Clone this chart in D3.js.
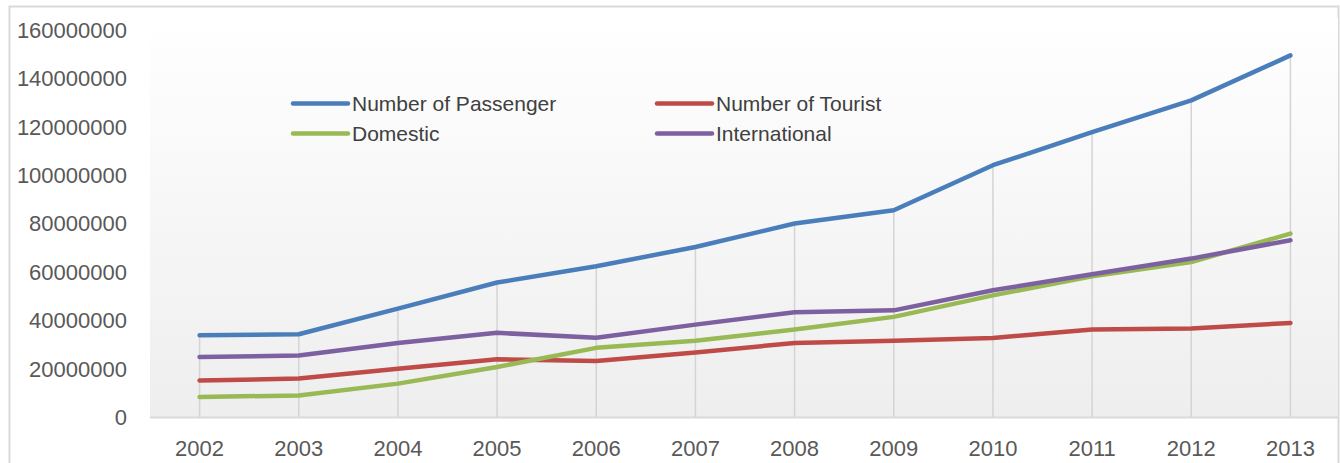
<!DOCTYPE html>
<html lang="en">
<head>
<meta charset="utf-8">
<title>Passengers and Tourists</title>
<script src="https://cdn.jsdelivr.net/npm/d3@7"></script>
<style>
  body { margin: 0; background: #fff; }
  svg { display: block; font-family: "Liberation Sans", Arial, sans-serif; }
  .tick-label { fill: #595959; font-size: 22px; }
  .legend-label { fill: #404040; font-size: 21px; }
</style>
</head>
<body>
<script>
// data
var years = ["2002", "2003", "2004", "2005", "2006", "2007", "2008", "2009", "2010", "2011", "2012", "2013"];
var passenger = [34000000, 34400000, 45000000, 55800000, 62500000, 70500000, 80200000, 85700000, 104300000, 118000000, 131100000, 149700000];
var tourist = [15300000, 16100000, 20200000, 24100000, 23400000, 26900000, 30800000, 31700000, 32900000, 36400000, 36800000, 39100000];
var domestic = [8500000, 9100000, 14000000, 20900000, 28800000, 31700000, 36400000, 41600000, 50500000, 58400000, 64300000, 76000000];
var international = [25000000, 25600000, 30800000, 35000000, 33000000, 38400000, 43500000, 44300000, 52600000, 59200000, 65700000, 73300000];
var yTicks = [0, 20000000, 40000000, 60000000, 80000000, 100000000, 120000000, 140000000, 160000000];

var series = [
  { name: "Number of Passenger", values: passenger, color: "#4a7ebb" },
  { name: "Number of Tourist", values: tourist, color: "#be4b48" },
  { name: "Domestic", values: domestic, color: "#98b954" },
  { name: "International", values: international, color: "#7d60a0" }
];

var W = 1340, H = 463;
var plot = { left: 150, right: 1338, top: 18, bottom: 417.5 };

var svg = d3.select("body").append("svg")
  .attr("width", W)
  .attr("height", H);

// plot background gradient
var grad = svg.append("defs").append("linearGradient")
  .attr("id", "bg").attr("x1", 0).attr("y1", 0).attr("x2", 0).attr("y2", 1);
grad.append("stop").attr("offset", "0%").attr("stop-color", "#ffffff");
grad.append("stop").attr("offset", "100%").attr("stop-color", "#eeeeee");

// chart border
svg.append("rect")
  .attr("x", 9.5).attr("y", 6.5)
  .attr("width", 1329).attr("height", 470)
  .attr("fill", "none")
  .attr("stroke", "#d9d9d9")
  .attr("stroke-width", 2);

svg.append("rect")
  .attr("x", plot.left).attr("y", plot.top)
  .attr("width", plot.right - plot.left)
  .attr("height", plot.bottom - plot.top)
  .attr("fill", "url(#bg)");

var x = d3.scalePoint().domain(years).range([150, 1340]).padding(0.5);
var y = d3.scaleLinear().domain([0, 160000000]).range([417.5, 30.5]);

// drop lines from the top point to the axis
svg.append("g").selectAll("line")
  .data(years)
  .enter().append("line")
  .attr("x1", function(d) { return x(d); })
  .attr("x2", function(d) { return x(d); })
  .attr("y1", function(d, i) { return y(d3.max(series, function(s) { return s.values[i]; })); })
  .attr("y2", y(0))
  .attr("stroke", "#d4d4d4")
  .attr("stroke-width", 1.5);

// category axis line
svg.append("line")
  .attr("x1", plot.left).attr("x2", plot.right)
  .attr("y1", y(0)).attr("y2", y(0))
  .attr("stroke", "#d9d9d9")
  .attr("stroke-width", 2);

// y tick labels
svg.append("g").selectAll("text")
  .data(yTicks)
  .enter().append("text")
  .attr("class", "tick-label")
  .attr("x", 127)
  .attr("y", function(d) { return y(d); })
  .attr("dy", "0.34em")
  .attr("text-anchor", "end")
  .text(function(d) { return d3.format("d")(d); });

// x tick labels
svg.append("g").selectAll("text")
  .data(years)
  .enter().append("text")
  .attr("class", "tick-label")
  .attr("x", function(d) { return x(d); })
  .attr("y", 456)
  .attr("text-anchor", "middle")
  .text(function(d) { return d; });

var line = d3.line()
  .x(function(d, i) { return x(years[i]); })
  .y(function(d) { return y(d); });

svg.append("g").selectAll("path")
  .data(series)
  .enter().append("path")
  .attr("d", function(s) { return line(s.values); })
  .attr("fill", "none")
  .attr("stroke", function(s) { return s.color; })
  .attr("stroke-width", 4.5)
  .attr("stroke-linejoin", "round")
  .attr("stroke-linecap", "round");

// legend, two rows by two columns
var legendPos = [
  { x: 293, y: 103.5 },
  { x: 657, y: 103.5 },
  { x: 293, y: 133.5 },
  { x: 657, y: 133.5 }
];

var legend = svg.append("g").selectAll("g")
  .data(series)
  .enter().append("g")
  .attr("transform", function(d, i) { return "translate(" + legendPos[i].x + "," + legendPos[i].y + ")"; });

legend.append("line")
  .attr("x1", 0).attr("x2", 55)
  .attr("y1", 0).attr("y2", 0)
  .attr("stroke", function(s) { return s.color; })
  .attr("stroke-width", 4.5)
  .attr("stroke-linecap", "round");

legend.append("text")
  .attr("class", "legend-label")
  .attr("x", 59)
  .attr("dy", "0.35em")
  .text(function(s) { return s.name; });
</script>
</body>
</html>
